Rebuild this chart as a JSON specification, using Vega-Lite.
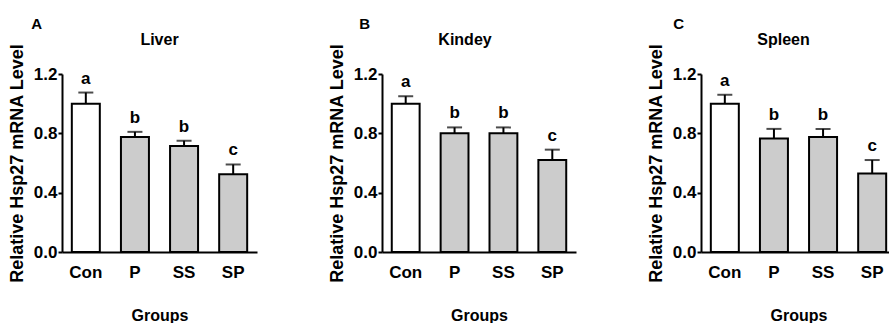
{
  "$schema": "https://vega.github.io/schema/vega-lite/v6.json",
  "padding": {"left": 8, "top": 17, "right": 0, "bottom": 0},
  "spacing": 71,
  "config": {
    "font": "Liberation Sans",
    "view": {"stroke": null},
    "axis": {
      "domainColor": "black", "domainWidth": 2, "tickColor": "black", "tickWidth": 2,
      "labelFont": "Liberation Sans", "labelFontWeight": "bold", "labelFontSize": 17, "labelColor": "black",
      "titleFont": "Liberation Sans", "titleFontWeight": "bold", "titleFontSize": 16, "titleColor": "black",
      "grid": false
    },
    "title": {"font": "Liberation Sans", "fontWeight": "bold", "color": "black"}
  },
  "data": {"values": [
    {"panel": "A", "group": "Con", "value": 1.0, "upper": 1.075, "letter": "a"},
    {"panel": "A", "group": "P", "value": 0.775, "upper": 0.81, "letter": "b"},
    {"panel": "A", "group": "SS", "value": 0.715, "upper": 0.75, "letter": "b"},
    {"panel": "A", "group": "SP", "value": 0.525, "upper": 0.59, "letter": "c"},
    {"panel": "B", "group": "Con", "value": 1.0, "upper": 1.05, "letter": "a"},
    {"panel": "B", "group": "P", "value": 0.8, "upper": 0.84, "letter": "b"},
    {"panel": "B", "group": "SS", "value": 0.8, "upper": 0.84, "letter": "b"},
    {"panel": "B", "group": "SP", "value": 0.62, "upper": 0.69, "letter": "c"},
    {"panel": "C", "group": "Con", "value": 1.0, "upper": 1.06, "letter": "a"},
    {"panel": "C", "group": "P", "value": 0.765, "upper": 0.83, "letter": "b"},
    {"panel": "C", "group": "SS", "value": 0.775, "upper": 0.83, "letter": "b"},
    {"panel": "C", "group": "SP", "value": 0.53, "upper": 0.62, "letter": "c"}
  ]},
  "hconcat": [
    {
      "title": {"text": "A", "anchor": "start", "fontSize": 15, "dx": 23, "offset": 0},
      "vconcat": [{
        "title": {"text": "Liver", "fontSize": 16, "anchor": "middle", "offset": -5},
        "width": 195, "height": 178,
        "transform": [{"filter": "datum.panel == 'A'"}],
        "encoding": {
          "x": {"field": "group", "type": "nominal", "sort": ["Con", "P", "SS", "SP"],
                "scale": {"paddingInner": 0.43, "paddingOuter": 0.2},
                "axis": {"title": "Groups", "labelAngle": 0, "ticks": false, "labelPadding": 12, "titlePadding": 27}}
        },
        "layer": [
          {"mark": {"type": "bar", "stroke": "black", "strokeWidth": 2},
           "encoding": {
             "y": {"field": "value", "type": "quantitative", "scale": {"domain": [0, 1.2]},
                   "axis": {"title": "Relative Hsp27 mRNA Level", "values": [0, 0.4, 0.8, 1.2], "format": ".1f", "tickSize": 4, "labelPadding": 1, "titlePadding": 7, "titleFontSize": 18}},
             "color": {"field": "group", "type": "nominal", "scale": {"domain": ["Con", "P", "SS", "SP"], "range": ["white", "#cccccc", "#cccccc", "#cccccc"]}, "legend": null}
           }},
          {"mark": {"type": "rule", "color": "black", "strokeWidth": 2},
           "encoding": {"y": {"field": "value", "type": "quantitative"}, "y2": {"field": "upper"}}},
          {"mark": {"type": "tick", "color": "black", "size": 15, "thickness": 2, "orient": "horizontal"},
           "encoding": {"y": {"field": "upper", "type": "quantitative"}}},
          {"mark": {"type": "text", "fontSize": 17, "fontWeight": "bold", "baseline": "alphabetic", "dy": -9, "color": "black"},
           "encoding": {"y": {"field": "upper", "type": "quantitative"}, "text": {"field": "letter"}}}
        ]
      }]
    },
    {
      "title": {"text": "B", "anchor": "start", "fontSize": 15, "dx": 31, "offset": 0},
      "vconcat": [{
        "title": {"text": "Kindey", "fontSize": 16, "anchor": "middle", "offset": -5, "dx": -14},
        "width": 194, "height": 178,
        "transform": [{"filter": "datum.panel == 'B'"}],
        "encoding": {
          "x": {"field": "group", "type": "nominal", "sort": ["Con", "P", "SS", "SP"],
                "scale": {"paddingInner": 0.43, "paddingOuter": 0.2},
                "axis": {"title": "Groups", "labelAngle": 0, "ticks": false, "labelPadding": 12, "titlePadding": 27}}
        },
        "layer": [
          {"mark": {"type": "bar", "stroke": "black", "strokeWidth": 2},
           "encoding": {
             "y": {"field": "value", "type": "quantitative", "scale": {"domain": [0, 1.2]},
                   "axis": {"title": "Relative Hsp27 mRNA Level", "values": [0, 0.4, 0.8, 1.2], "format": ".1f", "tickSize": 4, "labelPadding": 1, "titlePadding": 7, "titleFontSize": 18}},
             "color": {"field": "group", "type": "nominal", "scale": {"domain": ["Con", "P", "SS", "SP"], "range": ["white", "#cccccc", "#cccccc", "#cccccc"]}, "legend": null}
           }},
          {"mark": {"type": "rule", "color": "black", "strokeWidth": 2},
           "encoding": {"y": {"field": "value", "type": "quantitative"}, "y2": {"field": "upper"}}},
          {"mark": {"type": "tick", "color": "black", "size": 15, "thickness": 2, "orient": "horizontal"},
           "encoding": {"y": {"field": "upper", "type": "quantitative"}}},
          {"mark": {"type": "text", "fontSize": 17, "fontWeight": "bold", "baseline": "alphabetic", "dy": -9, "color": "black"},
           "encoding": {"y": {"field": "upper", "type": "quantitative"}, "text": {"field": "letter"}}}
        ]
      }]
    },
    {
      "title": {"text": "C", "anchor": "start", "fontSize": 15, "dx": 26, "offset": 0},
      "vconcat": [{
        "title": {"text": "Spleen", "fontSize": 16, "anchor": "middle", "offset": -5, "dx": -15},
        "width": 195, "height": 178,
        "transform": [{"filter": "datum.panel == 'C'"}],
        "encoding": {
          "x": {"field": "group", "type": "nominal", "sort": ["Con", "P", "SS", "SP"],
                "scale": {"paddingInner": 0.43, "paddingOuter": 0.2},
                "axis": {"title": "Groups", "labelAngle": 0, "ticks": false, "labelPadding": 12, "titlePadding": 27}}
        },
        "layer": [
          {"mark": {"type": "bar", "stroke": "black", "strokeWidth": 2},
           "encoding": {
             "y": {"field": "value", "type": "quantitative", "scale": {"domain": [0, 1.2]},
                   "axis": {"title": "Relative Hsp27 mRNA Level", "values": [0, 0.4, 0.8, 1.2], "format": ".1f", "tickSize": 4, "labelPadding": 1, "titlePadding": 7, "titleFontSize": 18}},
             "color": {"field": "group", "type": "nominal", "scale": {"domain": ["Con", "P", "SS", "SP"], "range": ["white", "#cccccc", "#cccccc", "#cccccc"]}, "legend": null}
           }},
          {"mark": {"type": "rule", "color": "black", "strokeWidth": 2},
           "encoding": {"y": {"field": "value", "type": "quantitative"}, "y2": {"field": "upper"}}},
          {"mark": {"type": "tick", "color": "black", "size": 15, "thickness": 2, "orient": "horizontal"},
           "encoding": {"y": {"field": "upper", "type": "quantitative"}}},
          {"mark": {"type": "text", "fontSize": 17, "fontWeight": "bold", "baseline": "alphabetic", "dy": -9, "color": "black"},
           "encoding": {"y": {"field": "upper", "type": "quantitative"}, "text": {"field": "letter"}}}
        ]
      }]
    }
  ]
}
